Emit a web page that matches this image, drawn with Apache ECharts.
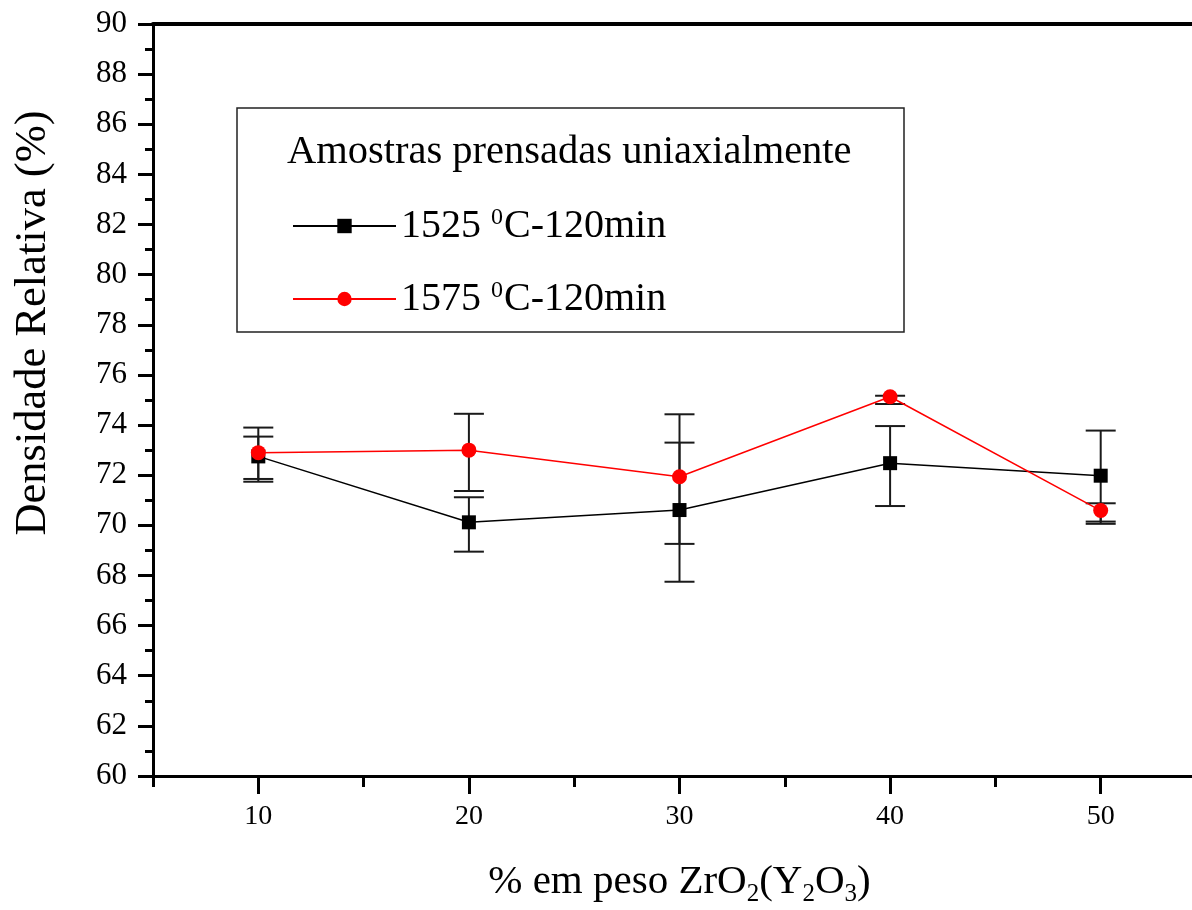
<!DOCTYPE html>
<html>
<head>
<meta charset="utf-8">
<script src="https://cdn.jsdelivr.net/npm/echarts@6/dist/echarts.min.js"></script>
<style>
  html, body { margin: 0; padding: 0; background: #fff; }
  #chart { width: 1192px; height: 910px; }
</style>
</head>
<body>
<div id="chart"></div>
<script>
// ZrO2(Y2O3) content, wt%
const zrContent = [10, 20, 30, 40, 50];

// Relative density (%) after sintering for 120 min
const temps = ['1525', '1575'];
const density1525 = [72.75, 70.12, 70.61, 72.48, 71.98];
const low1525     = [71.74, 68.95, 67.75, 70.77, 70.15];
const high1525    = [73.54, 71.12, 73.30, 73.96, 73.78];

const density1575 = [72.90, 73.00, 71.94, 75.13, 70.59];
const low1575     = [71.85, 71.37, 69.26, 74.84, 70.06];
const high1575    = [73.90, 74.45, 74.43, 75.17, 70.88];

// Axis ticks and labels
const xMajorTicks = [10, 20, 30, 40, 50];
const xMinorTicks = [5, 15, 25, 35, 45, 55];

const FONT = 'Liberation Serif, Times New Roman, serif';

const chart = echarts.init(document.getElementById('chart'));

function pairs(xs, ys) { return xs.map((x, i) => [x, ys[i]]); }
function bars(xs, lo, hi) { return xs.map((x, i) => [x, lo[i], hi[i]]); }

// Vertical error bar with horizontal caps
function renderErrorBar(params, api) {
  const x = api.value(0);
  const top = api.coord([x, api.value(2)]);
  const bot = api.coord([x, api.value(1)]);
  const half = 15;
  const style = { stroke: '#1a1a1a', lineWidth: 2 };
  return {
    type: 'group',
    children: [
      { type: 'line', shape: { x1: top[0], y1: top[1], x2: bot[0], y2: bot[1] }, style },
      { type: 'line', shape: { x1: top[0] - half, y1: top[1], x2: top[0] + half, y2: top[1] }, style },
      { type: 'line', shape: { x1: bot[0] - half, y1: bot[1], x2: bot[0] + half, y2: bot[1] }, style }
    ]
  };
}

const legendRich = {
  m: { fontFamily: FONT, fontSize: 40, lineHeight: 40, color: '#000', verticalAlign: 'bottom' },
  sup: { fontFamily: FONT, fontSize: 24, lineHeight: 24, color: '#000', verticalAlign: 'top', padding: [0, 1, 22, 0] }
};

const option = {
  backgroundColor: '#fff',
  animation: false,
  grid: {
    left: 153, top: 24, width: 1053, height: 752,
    containLabel: false, outerBoundsMode: 'none'
  },
  xAxis: [
    {
      type: 'value', min: 5, max: 55, position: 'bottom',
      axisLine: { show: true, onZero: false, lineStyle: { color: '#000', width: 3 } },
      axisTick: { show: true, customValues: xMajorTicks, length: 18, lineStyle: { color: '#000', width: 3 } },
      axisLabel: { show: true, customValues: xMajorTicks, margin: 27, fontFamily: FONT, fontSize: 28, color: '#000' },
      splitLine: { show: false },
      name: '% em peso ZrO{s|2}(Y{s|2}O{s|3})',
      nameLocation: 'middle',
      nameGap: 84,
      nameTextStyle: {
        fontFamily: FONT, fontSize: 41, color: '#000', lineHeight: 44, verticalAlign: 'top',
        rich: {
          s: { fontFamily: FONT, fontSize: 25, lineHeight: 25, color: '#000', verticalAlign: 'top', padding: [22, 0, 0, 0] }
        }
      }
    },
    {
      type: 'value', min: 5, max: 55, position: 'bottom',
      axisLine: { show: false, onZero: false },
      axisTick: { show: true, customValues: xMinorTicks, length: 11, lineStyle: { color: '#000', width: 3 } },
      axisLabel: { show: false },
      splitLine: { show: false }
    },
    {
      type: 'value', min: 5, max: 55, position: 'top',
      axisLine: { show: true, onZero: false, lineStyle: { color: '#000', width: 4 } },
      axisTick: { show: false },
      axisLabel: { show: false },
      splitLine: { show: false }
    }
  ],
  yAxis: {
    type: 'value', min: 60, max: 90, interval: 2,
    axisLine: { show: true, onZero: false, lineStyle: { color: '#000', width: 3 } },
    axisTick: { show: true, length: 15, lineStyle: { color: '#000', width: 3 } },
    minorTick: { show: true, splitNumber: 2, length: 8, lineStyle: { color: '#000', width: 3 } },
    axisLabel: { margin: 26, fontFamily: FONT, fontSize: 31, color: '#000' },
    splitLine: { show: false },
    minorSplitLine: { show: false }
  },
  legend: {
    orient: 'vertical',
    left: 287, top: 201,
    itemWidth: 103, itemHeight: 18,
    itemGap: 27,
    data: temps,
    formatter: name => '{m|' + name + ' }{sup|0}{m|C-120min}',
    textStyle: { fontFamily: FONT, fontSize: 40, color: '#000', rich: legendRich }
  },
  graphic: [
    {
      type: 'rect', z: 0,
      shape: { x: 237, y: 108, width: 667, height: 224 },
      style: { fill: 'none', stroke: '#222', lineWidth: 1.5 }
    },
    {
      type: 'text', left: 287, top: 132,
      style: { text: 'Amostras prensadas uniaxialmente', fontFamily: FONT, fontSize: 40.5, fill: '#000' }
    },
    {
      type: 'text', x: 33, y: 323, rotation: Math.PI / 2,
      style: { text: 'Densidade Relativa (%)', fontFamily: FONT, fontSize: 44.5, fill: '#000',
               align: 'center', verticalAlign: 'middle' }
    }
  ],
  series: [
    {
      name: temps[0], type: 'line',
      data: pairs(zrContent, density1525),
      symbol: 'rect', symbolSize: 14,
      lineStyle: { color: '#000', width: 1.5 },
      itemStyle: { color: '#000' },
      z: 3
    },
    {
      name: temps[1], type: 'line',
      data: pairs(zrContent, density1575),
      symbol: 'circle', symbolSize: 15,
      lineStyle: { color: '#ff0000', width: 1.5 },
      itemStyle: { color: '#ff0000' },
      z: 4
    },
    {
      type: 'custom', name: 'err1525',
      data: bars(zrContent, low1525, high1525),
      renderItem: renderErrorBar, z: 2, silent: true
    },
    {
      type: 'custom', name: 'err1575',
      data: bars(zrContent, low1575, high1575),
      renderItem: renderErrorBar, z: 2, silent: true
    }
  ]
};

chart.setOption(option);
</script>
</body>
</html>
